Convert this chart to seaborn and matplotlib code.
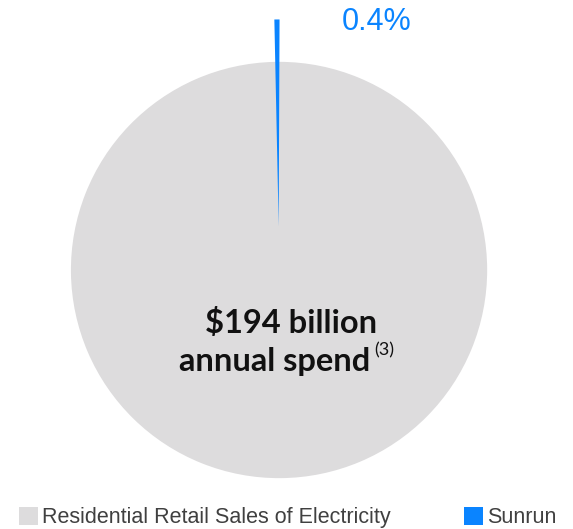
import matplotlib
matplotlib.use("Agg")
import matplotlib.pyplot as plt
from matplotlib.patches import Patch
import seaborn as sns

# Share of residential electricity spend
segments = ["Residential Retail Sales of Electricity", "Sunrun"]
shares = [99.6, 0.4]
share_label = "0.4%"
headline = "$194 billion"
subline = "annual spend"
footnote = "(3)"

sns.set_theme(style="white")
plt.rcParams["font.family"] = ["Liberation Sans", "DejaVu Sans"]

grey = "#dddcdd"
blue = "#0a84ff"
colors = [grey, blue]

fig = plt.figure(figsize=(5.73, 5.29), dpi=100)
ax = fig.add_axes([0, 0, 1, 1])

wedges, _ = ax.pie(shares, colors=colors, startangle=91.2, counterclock=True,
                   explode=[0, 0.21], radius=1.0,
                   wedgeprops=dict(linewidth=0))
# a thin same-colour edge closes the notch left by the pulled-out slice
wedges[0].set_edgecolor(grey)
wedges[0].set_linewidth(1.6)
wedges[1].set_zorder(wedges[0].get_zorder() + 1)

ax.set_xlim(-1.348, 1.420)
ax.set_ylim(-1.251, 1.304)
ax.set_aspect("auto")
ax.axis("off")

ax.text(0.473, 1.198, share_label, color=blue, fontsize=22,
        ha="center", va="center")

ax.text(0.056, -0.255, headline, fontsize=23.5, fontweight="bold",
        family="Lato", color="#111111", ha="center", va="center")
ax.text(-0.019, -0.44, subline, fontsize=23.5, fontweight="bold",
        family="Lato", color="#111111", ha="center", va="center")
ax.text(0.458, -0.39, footnote, fontsize=13, family="Lato",
        color="#111111", ha="left", va="center")

handles = [Patch(facecolor=c, edgecolor="none") for c in colors]
fig.legend(handles, segments, loc="lower center", ncol=2, frameon=False,
           bbox_to_anchor=(0.502, -0.035), fontsize=15.5, handlelength=0.9,
           handleheight=0.9, handletextpad=0.2, columnspacing=3.37,
           labelcolor="#404040")

fig.savefig("out.png", dpi=100)
